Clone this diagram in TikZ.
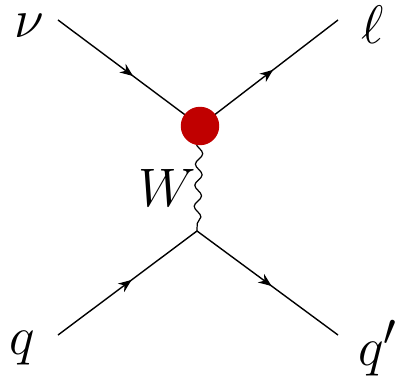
\documentclass[tikz,border=0pt]{standalone}
\usepackage{xcolor}
\usetikzlibrary{arrows.meta,decorations.markings,decorations.pathmorphing}
\definecolor{blobred}{HTML}{C00000}
\tikzset{
  fermion/.style={draw=black, line width=0.8pt, postaction={decorate},
                  decoration={markings, mark=at position 0.53 with {\arrow{Stealth[length=7.5pt,width=6pt]}}}},
  boson/.style={draw=black, line width=0.7pt, decorate,
                decoration={snake, amplitude=2pt, segment length=12pt}},
  blob/.style={circle, fill=blobred, minimum size=0.77cm, inner sep=0pt},
  lbl/.style={font=\Huge, inner sep=0pt, scale=1.24, transform shape},
}

\begin{document}
\begin{tikzpicture}[x=0.02cm, y=-0.02cm]
\useasboundingbox (0,0) rectangle (399,385);
% vertices and free ends
\coordinate (vtop) at (200,126);
\coordinate (vbot) at (197,231);
\coordinate (nuend) at (58,20);
\coordinate (lend) at (338,20);
\coordinate (qend) at (58,335);
\coordinate (qpend) at (338,335);
% labels
\node[lbl] (nulbl) at (29,26) {$\nu$};
\node[lbl] (llbl) at (373,25) {$\ell$};
\node[lbl] (wlbl) at (167,188) {$W$};
\node[lbl] (qlbl) at (22,348) {$q$};
\node[lbl, anchor=west] (qplbl) at (358,348) {$q'$};
% lines
\draw[fermion] (nuend) -- (vtop);
\draw[fermion] (vtop) -- (lend);
\draw[fermion] (qend) -- (vbot);
\draw[fermion] (vbot) -- (qpend);
\draw[boson] (vtop) -- (vbot);
\node[blob] (blob) at (vtop) {};
\end{tikzpicture}
\end{document}
